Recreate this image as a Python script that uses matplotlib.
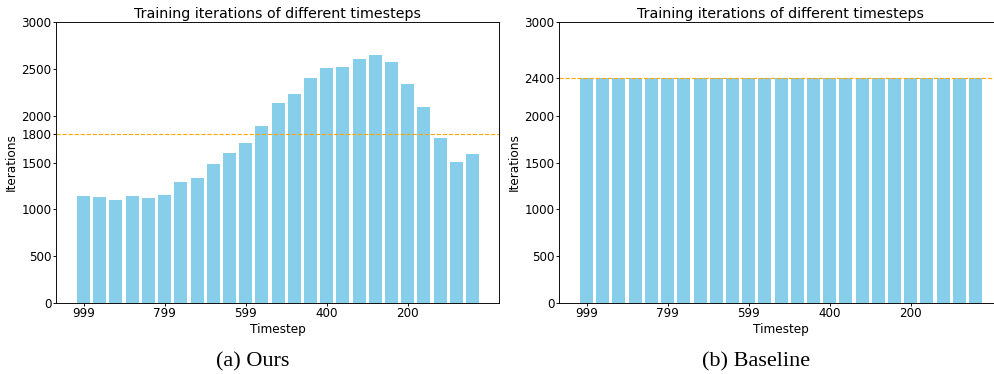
import matplotlib
matplotlib.use("Agg")
import matplotlib.pyplot as plt
import numpy as np

# iterations spent on each of the 25 timestep bins
ours_iters = [1144, 1133, 1101, 1144, 1122, 1154, 1293, 1336, 1486, 1603,
              1710, 1892, 2138, 2234, 2405, 2512, 2523, 2608, 2651, 2576,
              2341, 2095, 1764, 1507, 1593]
baseline_iters = [2400] * 25
ours_ref = 1800
baseline_ref = 2400

tick_idx = [0, 5, 10, 15, 20]
tick_labels = ["999", "799", "599", "400", "200"]
ours_yticks = [0, 500, 1000, 1500, 1800, 2000, 2500, 3000]
baseline_yticks = [0, 500, 1000, 1500, 2000, 2400, 3000]

lw = 0.66
plt.rcParams["font.family"] = "DejaVu Sans"
plt.rcParams["axes.linewidth"] = lw
plt.rcParams["xtick.major.width"] = lw
plt.rcParams["ytick.major.width"] = lw
plt.rcParams["xtick.major.size"] = 2.2
plt.rcParams["ytick.major.size"] = 2.2
plt.rcParams["xtick.major.pad"] = 1.0
plt.rcParams["ytick.major.pad"] = 1.0

fig = plt.figure(figsize=(9.95, 3.74), dpi=100)
W, H = 995, 374


def panel(x0, vals, ref, yticks, caption, cap_x, clip_right=False):
	ax = fig.add_axes([x0 / W, 1 - 303 / H, 443 / W, 281 / H])
	x = np.arange(len(vals))
	ax.bar(x, vals, width=0.8, color="skyblue")
	ax.axhline(ref, color="orange", linestyle="--", linewidth=0.82)
	ax.set_xlim(-1.7, 25.63)
	ax.set_ylim(0, 3000)
	ax.set_xticks(tick_idx, tick_labels)
	ax.set_yticks(yticks)
	ax.tick_params(labelsize=8.6)
	ax.set_title("Training iterations of different timesteps", fontsize=10.3, pad=2.6)
	ax.set_xlabel("Timestep", fontsize=8.7, labelpad=1.8)
	ax.set_ylabel("Iterations", fontsize=8.7, labelpad=2.5)
	if clip_right:
		# the right edge of this panel runs off the page
		ax.spines["right"].set_visible(False)
	fig.text(cap_x / W, 1 - 362 / H, caption, ha="center", va="center",
		fontsize=16, family="Liberation Serif")
	return ax


panel(56, ours_iters, ours_ref, ours_yticks, "(a) Ours", 253)
panel(559, baseline_iters, baseline_ref, baseline_yticks, "(b) Baseline", 756, clip_right=True)

fig.savefig("out.png", dpi=100)
